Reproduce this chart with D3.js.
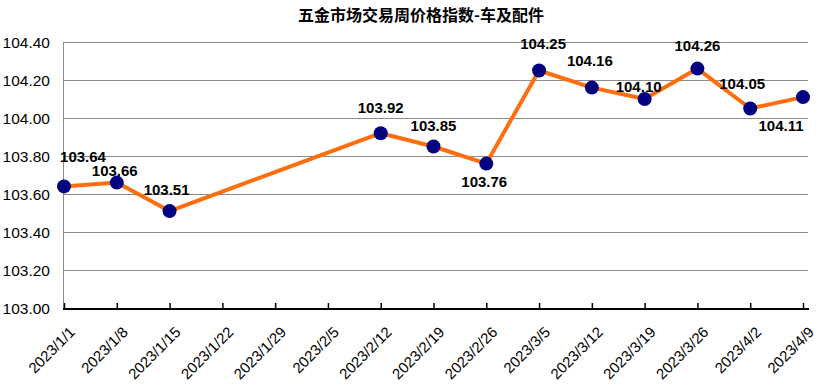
<!DOCTYPE html>
<html>
<head>
<meta charset="utf-8">
<script src="https://cdn.jsdelivr.net/npm/d3@7"></script>
<style>
  body { margin: 0; background: #fff; }
  text { font-family: "Liberation Sans", Arial, sans-serif; }
</style>
</head>
<body>
<svg id="chart" width="816" height="386"></svg>
<script>
// weekly tick dates shown on the axis
const tickDates = ['2023/1/1', '2023/1/8', '2023/1/15', '2023/1/22', '2023/1/29', '2023/2/5',
  '2023/2/12', '2023/2/19', '2023/2/26', '2023/3/5', '2023/3/12', '2023/3/19',
  '2023/3/26', '2023/4/2', '2023/4/9'];
// dates that have a value
const dates = ['2023/1/1', '2023/1/8', '2023/1/15', '2023/2/12', '2023/2/19', '2023/2/26',
  '2023/3/5', '2023/3/12', '2023/3/19', '2023/3/26', '2023/4/2', '2023/4/9'];
const values = [103.64, 103.66, 103.51, 103.92, 103.85, 103.76,
  104.25, 104.16, 104.10, 104.26, 104.05, 104.11];
const yTicks = [103.0, 103.2, 103.4, 103.6, 103.8, 104.0, 104.2, 104.4];
const title = '五金市场交易周价格指数-车及配件';

// label nudges (layout only)
const labelShift = [[19, -24], [-2, -7], [-3, -16], [0, -20], [0, -16], [-2, 23],
  [4, -22], [-2, -22], [-6, -7], [0, -18], [-8, -20], [-22, 34]];

const svg = d3.select('#chart');
const parse = d3.timeParse('%Y/%m/%d');
const margin = { left: 64, right: 803, top: 42, bottom: 308 };

const x = d3.scaleTime()
  .domain([parse(tickDates[0]), parse(tickDates[tickDates.length - 1])])
  .range([margin.left, margin.right]);
const y = d3.scaleLinear()
  .domain([103, 104.4])
  .range([margin.bottom, margin.top]);

// title
svg.append('text')
  .attr('x', 421)
  .attr('y', 21)
  .attr('text-anchor', 'middle')
  .style('font-family', '"Noto Sans CJK SC", sans-serif')
  .style('font-size', '16px')
  .style('font-weight', 700)
  .text(title);

// horizontal grid
svg.append('g')
  .selectAll('line')
  .data(yTicks.slice(1))
  .join('line')
  .attr('x1', margin.left - 1)
  .attr('x2', 808)
  .attr('y1', (d) => Math.round(y(d)) + 0.5)
  .attr('y2', (d) => Math.round(y(d)) + 0.5)
  .attr('stroke', '#8c8c8c')
  .attr('stroke-width', 1);

// left axis line
svg.append('line')
  .attr('x1', margin.left - 0.5)
  .attr('x2', margin.left - 0.5)
  .attr('y1', margin.top)
  .attr('y2', margin.bottom + 1)
  .attr('stroke', '#8c8c8c');

// y tick labels
svg.append('g')
  .selectAll('text')
  .data(yTicks)
  .join('text')
  .attr('x', 50)
  .attr('y', (d) => y(d) + 6)
  .attr('text-anchor', 'end')
  .style('font-size', '15.5px')
  .text((d) => d3.format('.2f')(d));

// bottom axis
const xAxis = d3.axisBottom(x)
  .tickValues(tickDates.map(parse))
  .tickSizeInner(-6)
  .tickSizeOuter(0)
  .tickFormat(() => '');
const gx = svg.append('g')
  .attr('transform', `translate(0,${margin.bottom + 1})`)
  .call(xAxis);
gx.select('.domain')
  .attr('d', `M${margin.left - 1},0H809`)
  .attr('stroke', '#000')
  .attr('stroke-width', 2);
gx.selectAll('.tick line').attr('stroke', '#000').attr('stroke-width', 1.5);

// rotated date labels
svg.append('g')
  .selectAll('text')
  .data(tickDates)
  .join('text')
  .attr('transform', (d) => `translate(${x(parse(d)) + 12},${margin.bottom + 25}) rotate(-45)`)
  .attr('text-anchor', 'end')
  .style('font-size', '15px')
  .text((d) => d);

const pts = dates.map((d, i) => ({ date: parse(d), value: values[i], i }));

// series line
svg.append('path')
  .datum(pts)
  .attr('fill', 'none')
  .attr('stroke', '#ff6d0d')
  .attr('stroke-width', 4)
  .attr('stroke-linejoin', 'round')
  .attr('d', d3.line().x((d) => x(d.date)).y((d) => y(d.value)));

// markers
svg.append('g')
  .selectAll('circle')
  .data(pts)
  .join('circle')
  .attr('cx', (d) => x(d.date))
  .attr('cy', (d) => y(d.value))
  .attr('r', 7)
  .attr('fill', '#000080');

// value labels
svg.append('g')
  .selectAll('text')
  .data(pts)
  .join('text')
  .attr('x', (d) => x(d.date) + labelShift[d.i][0])
  .attr('y', (d) => y(d.value) + labelShift[d.i][1])
  .attr('text-anchor', 'middle')
  .style('font-size', '15px')
  .style('font-weight', 700)
  .text((d) => d3.format('.2f')(d.value));
</script>
</body>
</html>
